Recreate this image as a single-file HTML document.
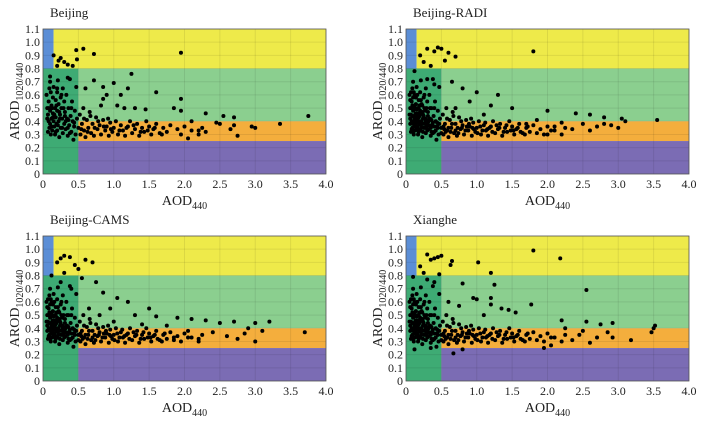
<!DOCTYPE html>
<html><head><meta charset="utf-8"><style>
body{margin:0;background:#fff}
svg text{font-family:"Liberation Serif",serif;fill:#222}
</style></head><body>
<svg id="c" width="704" height="421"></svg>
<script>
const xTicks=[0,0.5,1.0,1.5,2.0,2.5,3.0,3.5,4.0];
const xTickLabels=["0","0.5","1.0","1.5","2.0","2.5","3.0","3.5","4.0"];
const yTicks=[0,0.1,0.2,0.3,0.4,0.5,0.6,0.7,0.8,0.9,1.0,1.1];
const yTickLabels=["0","0.1","0.2","0.3","0.4","0.5","0.6","0.7","0.8","0.9","1.0","1.1"];
const panelTitles=["Beijing","Beijing-RADI","Beijing-CAMS","Xianghe"];
const regions=[[0,0.15,0.3,1.1,"#5b8ed6"],[0.15,4,0.8,1.1,"#eeea4a"],[0,0.5,0,0.8,"#3eab74"],[0.5,4,0.4,0.8,"#8bcf8f"],[0.5,4,0.25,0.4,"#f4ae3d"],[0.5,4,0,0.25,"#7b6cb4"]];
const core=[[0.05,0.6],[0.06,0.5],[0.07,0.45],[0.08,0.4],[0.08,0.55],[0.09,0.35],[0.1,0.7],[0.1,0.48],[0.1,0.38],[0.11,0.62],[0.12,0.52],[0.12,0.42],[0.13,0.33],[0.14,0.58],[0.14,0.46],[0.15,0.4],[0.15,0.66],[0.16,0.36],[0.17,0.5],[0.17,0.3],[0.18,0.56],[0.18,0.43],[0.19,0.38],[0.2,0.62],[0.2,0.48],[0.2,0.33],[0.21,0.71],[0.22,0.53],[0.22,0.4],[0.23,0.28],[0.24,0.45],[0.25,0.58],[0.25,0.35],[0.26,0.5],[0.27,0.42],[0.28,0.65],[0.28,0.31],[0.3,0.38],[0.3,0.55],[0.31,0.47],[0.32,0.34],[0.33,0.6],[0.34,0.42],[0.35,0.29],[0.36,0.5],[0.37,0.37],[0.38,0.72],[0.39,0.44],[0.4,0.32],[0.41,0.55],[0.42,0.4],[0.43,0.26],[0.44,0.36],[0.45,0.48],[0.46,0.3],[0.47,0.66],[0.48,0.42],[0.5,0.35],[0.52,0.45],[0.53,0.3],[0.55,0.38],[0.57,0.5],[0.58,0.33],[0.6,0.28],[0.62,0.41],[0.64,0.35],[0.66,0.47],[0.68,0.31],[0.7,0.38],[0.72,0.29],[0.75,0.43],[0.77,0.34],[0.8,0.37],[0.82,0.3],[0.85,0.41],[0.88,0.33],[0.9,0.36],[0.93,0.29],[0.95,0.39],[0.98,0.32],[1.0,0.35],[1.03,0.4],[1.06,0.3],[1.1,0.37],[1.13,0.33],[1.16,0.29],[1.2,0.36],[1.23,0.4],[1.26,0.31],[1.3,0.34],[1.33,0.38],[1.36,0.29],[1.4,0.35],[1.43,0.32],[1.46,0.4],[1.5,0.36],[1.53,0.3],[1.56,0.34],[1.6,0.38],[1.65,0.31],[1.7,0.35],[1.75,0.32],[1.8,0.37],[1.9,0.34],[1.95,0.3],[2.0,0.36],[2.1,0.33],[2.2,0.3],[2.25,0.35],[0.07,0.32],[0.09,0.65],[0.11,0.3],[0.13,0.5],[0.16,0.45],[0.19,0.52],[0.21,0.37],[0.24,0.42],[0.27,0.35],[0.29,0.5],[0.32,0.4],[0.35,0.35],[0.38,0.31],[0.44,0.39],[0.54,0.34],[0.63,0.32],[0.73,0.35],[0.86,0.36],[0.96,0.34],[1.08,0.33],[1.18,0.35],[1.28,0.37],[1.38,0.32],[1.48,0.33],[1.58,0.35],[1.68,0.3],[0.58,0.42],[0.67,0.44],[0.78,0.4],[0.92,0.42],[0.06,0.42],[0.08,0.5],[0.12,0.36],[0.14,0.43],[0.18,0.32],[0.23,0.47],[0.26,0.6],[0.31,0.44],[0.36,0.41],[0.4,0.5]];
const core2=[[0.05,0.45],[0.06,0.38],[0.06,0.56],[0.07,0.62],[0.08,0.34],[0.09,0.44],[0.09,0.52],[0.1,0.58],[0.1,0.32],[0.11,0.4],[0.11,0.49],[0.12,0.6],[0.13,0.38],[0.13,0.45],[0.14,0.53],[0.15,0.34],[0.15,0.49],[0.16,0.41],[0.16,0.6],[0.17,0.39],[0.17,0.46],[0.18,0.5],[0.19,0.34],[0.19,0.44],[0.2,0.4],[0.21,0.46],[0.21,0.56],[0.22,0.35],[0.23,0.38],[0.23,0.52],[0.24,0.32],[0.25,0.44],[0.26,0.38],[0.27,0.48],[0.28,0.4],[0.29,0.36],[0.3,0.33],[0.31,0.41],[0.33,0.37],[0.34,0.5],[0.36,0.32],[0.38,0.39],[0.4,0.36],[0.42,0.33],[0.45,0.35],[0.47,0.38],[0.5,0.31],[0.53,0.36],[0.56,0.32],[0.6,0.35],[0.65,0.38],[0.7,0.33],[0.74,0.31],[0.79,0.35],[0.84,0.33],[0.89,0.38],[0.94,0.35],[1.01,0.31],[1.05,0.36],[1.12,0.39],[1.15,0.34],[1.22,0.32],[1.32,0.35],[1.42,0.37],[1.52,0.33],[1.62,0.32],[1.72,0.36],[1.85,0.31],[2.05,0.33]];
const p1=[[0.15,0.9],[0.2,0.82],[0.25,0.88],[0.3,0.85],[0.35,0.83],[0.42,0.82],[0.47,0.94],[0.57,0.95],[0.72,0.91],[1.95,0.92],[0.48,0.87],[0.22,0.86],[1.25,0.76],[0.72,0.71],[1.0,0.69],[0.6,0.65],[0.85,0.66],[1.2,0.65],[1.6,0.62],[1.1,0.6],[0.9,0.6],[0.85,0.57],[1.95,0.57],[0.82,0.52],[1.05,0.52],[1.15,0.5],[1.3,0.5],[1.45,0.49],[1.85,0.5],[1.95,0.48],[2.3,0.46],[2.55,0.44],[2.7,0.43],[3.75,0.44],[3.35,0.38],[2.95,0.36],[3.0,0.35],[2.75,0.29],[2.7,0.37],[2.5,0.38],[2.45,0.39],[2.3,0.32],[2.2,0.33],[2.05,0.27],[2.1,0.4],[2.65,0.34],[0.1,0.74],[0.35,0.73],[0.2,0.65]];
const p2=[[0.2,0.9],[0.3,0.95],[0.4,0.93],[0.45,0.96],[0.5,0.95],[0.6,0.92],[0.7,0.89],[1.8,0.93],[0.25,0.85],[0.35,0.82],[0.55,0.86],[0.65,0.7],[0.8,0.65],[1.0,0.62],[1.3,0.6],[0.9,0.55],[1.2,0.52],[1.5,0.5],[2.0,0.48],[2.4,0.46],[2.6,0.45],[2.8,0.43],[3.05,0.42],[3.55,0.41],[3.1,0.4],[2.9,0.37],[2.7,0.36],[2.5,0.38],[2.35,0.34],[2.2,0.39],[2.1,0.36],[2.0,0.3],[1.85,0.41],[1.7,0.38],[0.12,0.78],[0.3,0.72],[0.4,0.68],[0.7,0.5],[1.1,0.45],[2.6,0.33],[2.8,0.38],[3.0,0.35]];
const p3=[[0.2,0.9],[0.25,0.93],[0.3,0.95],[0.38,0.94],[0.45,0.88],[0.5,0.85],[0.6,0.92],[0.7,0.9],[0.3,0.82],[0.55,0.78],[0.75,0.75],[0.85,0.67],[1.05,0.63],[1.2,0.6],[1.5,0.55],[0.95,0.55],[1.3,0.5],[1.6,0.49],[1.9,0.48],[2.1,0.47],[2.3,0.46],[2.5,0.44],[2.7,0.45],[3.0,0.44],[3.2,0.45],[3.7,0.37],[3.0,0.3],[2.85,0.36],[2.6,0.34],[2.4,0.37],[2.2,0.32],[2.05,0.38],[1.85,0.33],[0.12,0.8],[0.25,0.75],[0.4,0.7],[0.65,0.55],[0.8,0.5],[1.0,0.45],[1.4,0.43],[1.75,0.42],[2.9,0.4],[2.75,0.32],[3.1,0.38]];
const p4=[[0.3,0.96],[0.35,0.92],[0.4,0.93],[0.45,0.94],[0.5,0.95],[0.65,0.91],[0.63,0.88],[1.02,0.9],[1.8,0.99],[2.18,0.93],[0.2,0.87],[0.25,0.82],[0.47,0.81],[1.2,0.82],[0.1,0.79],[0.3,0.77],[0.4,0.75],[0.8,0.74],[1.25,0.73],[2.55,0.69],[0.95,0.63],[1.0,0.62],[1.2,0.63],[0.6,0.6],[1.2,0.58],[1.77,0.58],[0.75,0.57],[1.35,0.55],[1.45,0.54],[1.55,0.52],[1.1,0.5],[2.2,0.46],[2.55,0.45],[2.75,0.43],[2.92,0.44],[3.5,0.4],[3.52,0.42],[3.47,0.37],[3.18,0.31],[2.92,0.33],[2.85,0.37],[2.7,0.33],[2.6,0.29],[2.45,0.35],[2.35,0.31],[1.95,0.25],[2.05,0.27],[0.67,0.21],[0.8,0.24],[0.12,0.24],[0.35,0.25],[2.25,0.4],[2.5,0.38]];
const datasets=[p1.concat(core),p2.concat(core,core2),p3.concat(core,core2),p4.concat(core,core2)];
const panels=[[43,326,29,174],[406,689,29,174],[43,326,236,381],[406,689,236,381]];
const NS="http://www.w3.org/2000/svg";
const svg=document.getElementById("c");
function mk(tag,attrs,parent){const e=document.createElementNS(NS,tag);for(const k in attrs)e.setAttribute(k,attrs[k]);(parent||svg).appendChild(e);return e;}
panels.forEach((p,i)=>{
  const [L,R,T,B]=p;
  const sx=v=>L+v/4*(R-L), sy=v=>B-v/1.1*(B-T);
  const g=mk("g",{});
  
  
  regions.forEach(r=>{
    const re=mk("rect",{x:sx(r[0]),y:sy(r[3]),width:sx(r[1])-sx(r[0]),height:sy(r[2])-sy(r[3]),fill:r[4]},g);
    
    
  });
  xTicks.forEach(v=>{mk("line",{x1:sx(v),x2:sx(v),y1:T,y2:B,stroke:"rgba(0,0,0,0.08)","stroke-width":1},g);});
  yTicks.forEach(v=>{mk("line",{x1:L,x2:R,y1:sy(v),y2:sy(v),stroke:"rgba(0,0,0,0.08)","stroke-width":1},g);});
  datasets[i].forEach(d=>{
    const c=mk("circle",{cx:sx(d[0]),cy:sy(d[1]),r:2,fill:"#000"},g);
    
    
  });
  mk("rect",{x:L,y:T,width:R-L,height:B-T,fill:"none",stroke:"#555","stroke-width":0.8},g);
  xTicks.forEach((v,k)=>{
    const t=mk("text",{x:sx(v),y:B+14,"font-size":12,"text-anchor":"middle"},g);t.textContent=xTickLabels[k];
    
    
  });
  yTicks.forEach((v,k)=>{
    const t=mk("text",{x:L-3,y:sy(v)+4,"font-size":12,"text-anchor":"end"},g);t.textContent=yTickLabels[k];
    
    
  });
  const ti=mk("text",{x:L+7,y:T-12,"font-size":13},g);ti.textContent=panelTitles[i];
  
  
  const xl=mk("text",{x:(L+R)/2,y:B+31,"font-size":14,"text-anchor":"middle"},g);
  xl.innerHTML='AOD<tspan font-size="10" dy="4">440</tspan>';
  
  
  const yl=mk("text",{x:0,y:0,"font-size":14,"text-anchor":"middle",transform:`translate(${L-24},${(T+B)/2}) rotate(-90)`},g);
  yl.innerHTML='AROD<tspan font-size="10" dy="4">1020/440</tspan>';
  
  
});
</script>
</body></html>
